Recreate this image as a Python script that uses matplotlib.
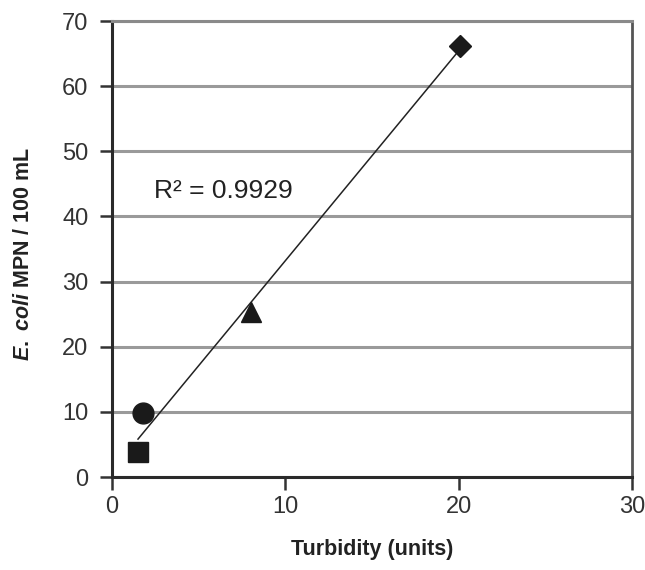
import matplotlib
matplotlib.use("Agg")
import matplotlib.pyplot as plt
import numpy as np

plt.rcParams['font.family'] = ['Liberation Sans', 'DejaVu Sans']
plt.rcParams['mathtext.fontset'] = 'custom'
plt.rcParams['mathtext.it'] = 'Liberation Sans:italic:bold'
plt.rcParams['mathtext.rm'] = 'Liberation Sans:bold'

# turbidity vs E. coli counts, one marker per sample
turbidity = [1.5, 1.8, 8.0, 20.1]
ecoli = [3.8, 9.8, 25.3, 66.2]
markers = ['s', 'o', '^', 'D']
marker_sizes = [14, 15, 15, 11]
r2_label = 'R² = 0.9929'

x_ticks = [0, 10, 20, 30]
y_ticks = [0, 10, 20, 30, 40, 50, 60, 70]

fig = plt.figure(figsize=(6.45, 5.7), dpi=100)
ax = fig.add_axes([112 / 645, 1 - 477 / 570, 520 / 645, 456 / 570])

# linear trend line over the data range
slope, intercept = np.polyfit(turbidity, ecoli, 1)
xs = np.array([min(turbidity), max(turbidity)])
ax.plot(xs, slope * xs + intercept, color='#222222', linewidth=1.1, zorder=3)

for x, y, m, s in zip(turbidity, ecoli, markers, marker_sizes):
    ax.plot(x, y, marker=m, markersize=s, color='#1a1a1a', linestyle='none', zorder=4)

ax.text(2.45, 43.9, r2_label, fontsize=19, color='#222222', ha='left', va='center')

ax.set_xlim(0, 30)
ax.set_ylim(0, 70)
ax.set_xticks(x_ticks)
ax.set_yticks(y_ticks)
ax.tick_params(axis='both', direction='out', length=9, width=1.8, color='#333333',
               labelsize=17, labelcolor='#333333', pad=5)
ax.tick_params(axis='y', pad=8)

ax.yaxis.grid(True, color='#9a9a9a', linewidth=2.2)
ax.set_axisbelow(True)

ax.spines['left'].set_color('#2a2a2a')
ax.spines['left'].set_linewidth(2.2)
ax.spines['bottom'].set_color('#2a2a2a')
ax.spines['bottom'].set_linewidth(2.2)
ax.spines['right'].set_color('#555555')
ax.spines['right'].set_linewidth(2.0)
ax.spines['top'].set_color('#8a8a8a')
ax.spines['top'].set_linewidth(2.2)

ax.set_xlabel('Turbidity (units)', fontsize=15.5, fontweight='bold', color='#222222')
ax.xaxis.set_label_coords(0.5, -0.135)
ax.set_ylabel(r'$\mathit{E.}$ $\mathit{coli}$ MPN / 100 mL', fontsize=15.5,
              fontweight='bold', color='#222222')
ax.yaxis.set_label_coords(-0.15, 0.49)

fig.savefig('out.png', dpi=100)
plt.close(fig)
